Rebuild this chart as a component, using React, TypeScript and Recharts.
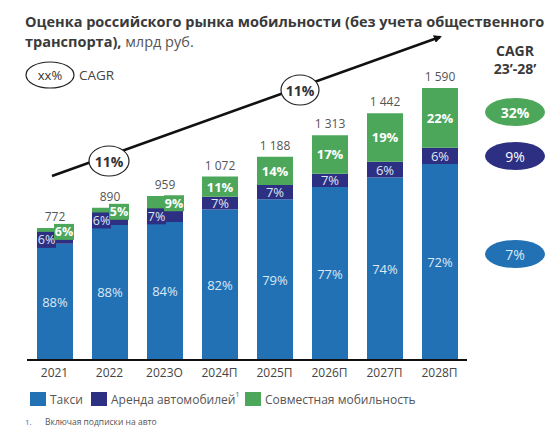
import { BarChart, Bar, XAxis, YAxis, LabelList } from 'recharts';

// Mobility market estimate, RUB bn, stacked by segment

const years = ['2021', '2022', '2023О', '2024П', '2025П', '2026П', '2027П', '2028П'];
const totals = ['772', '890', '959', '1 072', '1 188', '1 313', '1 442', '1 590'];

const taxi = [679, 789, 806, 879, 939, 1011, 1067, 1145];
const rental = [46, 53, 67, 75, 83, 78, 92, 95];
const shared = [47, 48, 86, 118, 166, 224, 283, 350];

const taxiShare = ['88', '88', '84', '82', '79', '77', '74', '72'];
const rentalShare = ['6', '6', '7', '7', '7', '7', '6', '6'];
const sharedShare = ['6', '5', '9', '11', '14', '17', '19', '22'];

const cagrLabels = ['32%', '9%', '7%'];

const BLUE = '#2271b5';
const NAVY = '#2d2f82';
const GREEN = '#4da75a';
const FONT = '"Open Sans", "DejaVu Sans", sans-serif';

const data = years.map((year, i) => ({
  year,
  taxi: taxi[i],
  rental: rental[i],
  shared: shared[i],
}));

const TaxiLabel = (p: any) => {
  const x = Number(p.x), y = Number(p.y), w = Number(p.width), h = Number(p.height);
  return (
    <text x={x + w / 2} y={y + h / 2} textAnchor="middle" dominantBaseline="central"
      fill="#dde8f4" fontSize={13} fontFamily={FONT}>
      {taxiShare[p.index]}%
    </text>
  );
};

const RentalLabel = (p: any) => {
  const x = Number(p.x), y = Number(p.y), w = Number(p.width), h = Number(p.height);
  const cy = y + h / 2;
  if (p.index < 3) {
    // small segment: badge pinned to the left edge of the bar
    return (
      <g>
        <rect x={x} y={cy - 8} width={19} height={16} fill={NAVY} />
        <text x={x + 9.5} y={cy} textAnchor="middle" dominantBaseline="central"
          fill="#dde8f4" fontSize={12.5} fontFamily={FONT}>
          {rentalShare[p.index]}%
        </text>
      </g>
    );
  }
  return (
    <text x={x + w / 2} y={cy} textAnchor="middle" dominantBaseline="central"
      fill="#dde8f4" fontSize={13} fontFamily={FONT}>
      {rentalShare[p.index]}%
    </text>
  );
};

const SharedLabel = (p: any) => {
  const x = Number(p.x), y = Number(p.y), w = Number(p.width), h = Number(p.height);
  const cy = y + h / 2;
  if (p.index < 3) {
    return (
      <g>
        <rect x={x + w - 19} y={cy - 8} width={20} height={16} fill={GREEN} />
        <text x={x + w - 9} y={cy} textAnchor="middle" dominantBaseline="central"
          fill="#ffffff" fontSize={12.5} fontWeight={700} fontFamily={FONT}>
          {sharedShare[p.index]}%
        </text>
      </g>
    );
  }
  return (
    <text x={x + w / 2} y={cy} textAnchor="middle" dominantBaseline="central"
      fill="#ffffff" fontSize={13} fontWeight={700} fontFamily={FONT}>
      {sharedShare[p.index]}%
    </text>
  );
};

const TotalLabel = (p: any) => {
  const x = Number(p.x), y = Number(p.y), w = Number(p.width);
  return (
    <text x={x + w / 2} y={y - 7} textAnchor="middle" fill="#555555"
      fontSize={12} fontFamily={FONT}>
      {totals[p.index]}
    </text>
  );
};

function Overlay() {
  const legend = [
    { name: 'Такси', color: BLUE, x: 30 },
    { name: 'Аренда автомобилей', color: NAVY, x: 91, sup: true },
    { name: 'Совместная мобильность', color: GREEN, x: 245 },
  ];
  return (
    <svg width={559} height={436} style={{ position: 'absolute', left: 0, top: 0, pointerEvents: 'none' }}
      fontFamily={FONT}>
      <defs>
        <marker id="head" markerWidth="8" markerHeight="8" refX="6" refY="4" orient="auto" markerUnits="userSpaceOnUse">
          <path d="M0,0 L8,4 L0,8 Z" fill="#111" />
        </marker>
      </defs>
      <text x={25} y={27} fontSize={14.5} fontWeight={700} fill="#3a3a3a">
        Оценка российского рынка мобильности (без учета общественного
      </text>
      <text x={25} y={47} fontSize={14.5} fill="#3a3a3a">
        <tspan fontWeight={700}>транспорта),</tspan>
        <tspan fill="#555"> млрд руб.</tspan>
      </text>

      <ellipse cx={50} cy={75} rx={24} ry={13} fill="#fff" stroke="#222" strokeWidth={1.2} />
      <text x={50} y={75} textAnchor="middle" dominantBaseline="central" fontSize={13} fill="#333">xx%</text>
      <text x={79} y={75} dominantBaseline="central" fontSize={13.5} fill="#444">CAGR</text>

      <line x1={52} y1={176} x2={440} y2={37} stroke="#111" strokeWidth={2.5} markerEnd="url(#head)" />
      <ellipse cx={109} cy={161} rx={20} ry={15} fill="#fff" stroke="#222" strokeWidth={1.2} />
      <text x={109} y={161} textAnchor="middle" dominantBaseline="central" fontSize={14} fontWeight={700} fill="#333">11%</text>
      <ellipse cx={300} cy={90} rx={19} ry={15} fill="#fff" stroke="#222" strokeWidth={1.2} />
      <text x={300} y={90} textAnchor="middle" dominantBaseline="central" fontSize={14} fontWeight={700} fill="#333">11%</text>

      <text x={515} y={56} textAnchor="middle" fontSize={14} fontWeight={700} fill="#3a3a3a">CAGR</text>
      <text x={515} y={74} textAnchor="middle" fontSize={14} fontWeight={700} fill="#3a3a3a">23’-28’</text>

      <ellipse cx={515} cy={112} rx={30} ry={14} fill={GREEN} />
      <text x={515} y={112} textAnchor="middle" dominantBaseline="central" fontSize={14} fontWeight={700} fill="#fff">{cagrLabels[0]}</text>
      <ellipse cx={515} cy={156} rx={30} ry={14} fill={NAVY} />
      <text x={515} y={156} textAnchor="middle" dominantBaseline="central" fontSize={14} fill="#fff">{cagrLabels[1]}</text>
      <ellipse cx={515} cy={254} rx={30} ry={14} fill={BLUE} />
      <text x={515} y={254} textAnchor="middle" dominantBaseline="central" fontSize={14} fill="#dde8f4">{cagrLabels[2]}</text>

      {legend.map((l) => (
        <g key={l.name}>
          <rect x={l.x} y={392} width={16} height={14} fill={l.color} />
          <text x={l.x + 20} y={399} dominantBaseline="central" fontSize={12} fill="#555">
            {l.name}
            {l.sup ? <tspan fontSize={7} dy={-5}>1</tspan> : null}
          </text>
        </g>
      ))}
      <text x={25} y={421} dominantBaseline="central" fontSize={8} fill="#3a6fb0">1.</text>
      <text x={45} y={421} dominantBaseline="central" fontSize={8.5} fill="#555">Включая подписки на авто</text>
    </svg>
  );
}

export default function App() {
  return (
    <div style={{ position: 'fixed', left: 0, top: 0, width: 559, height: 436, background: '#fff' }}>
      <BarChart width={559} height={436} data={data}
        margin={{ top: 52, right: 92, left: 27, bottom: 46 }} barSize={36}>
        <XAxis dataKey="year" axisLine={{ stroke: '#111', strokeWidth: 2 }} tickLine={false}
          interval={0} height={30}
          tick={{ fill: '#444', fontSize: 12, fontFamily: FONT }} />
        <YAxis hide domain={[0, 1800]} />
        <Bar dataKey="taxi" stackId="a" fill={BLUE} isAnimationActive={false}>
          <LabelList dataKey="taxi" content={TaxiLabel} />
        </Bar>
        <Bar dataKey="rental" stackId="a" fill={NAVY} isAnimationActive={false}>
          <LabelList dataKey="rental" content={RentalLabel} />
        </Bar>
        <Bar dataKey="shared" stackId="a" fill={GREEN} isAnimationActive={false}>
          <LabelList dataKey="shared" content={SharedLabel} />
          <LabelList dataKey="shared" content={TotalLabel} />
        </Bar>
      </BarChart>
      <Overlay />
    </div>
  );
}
